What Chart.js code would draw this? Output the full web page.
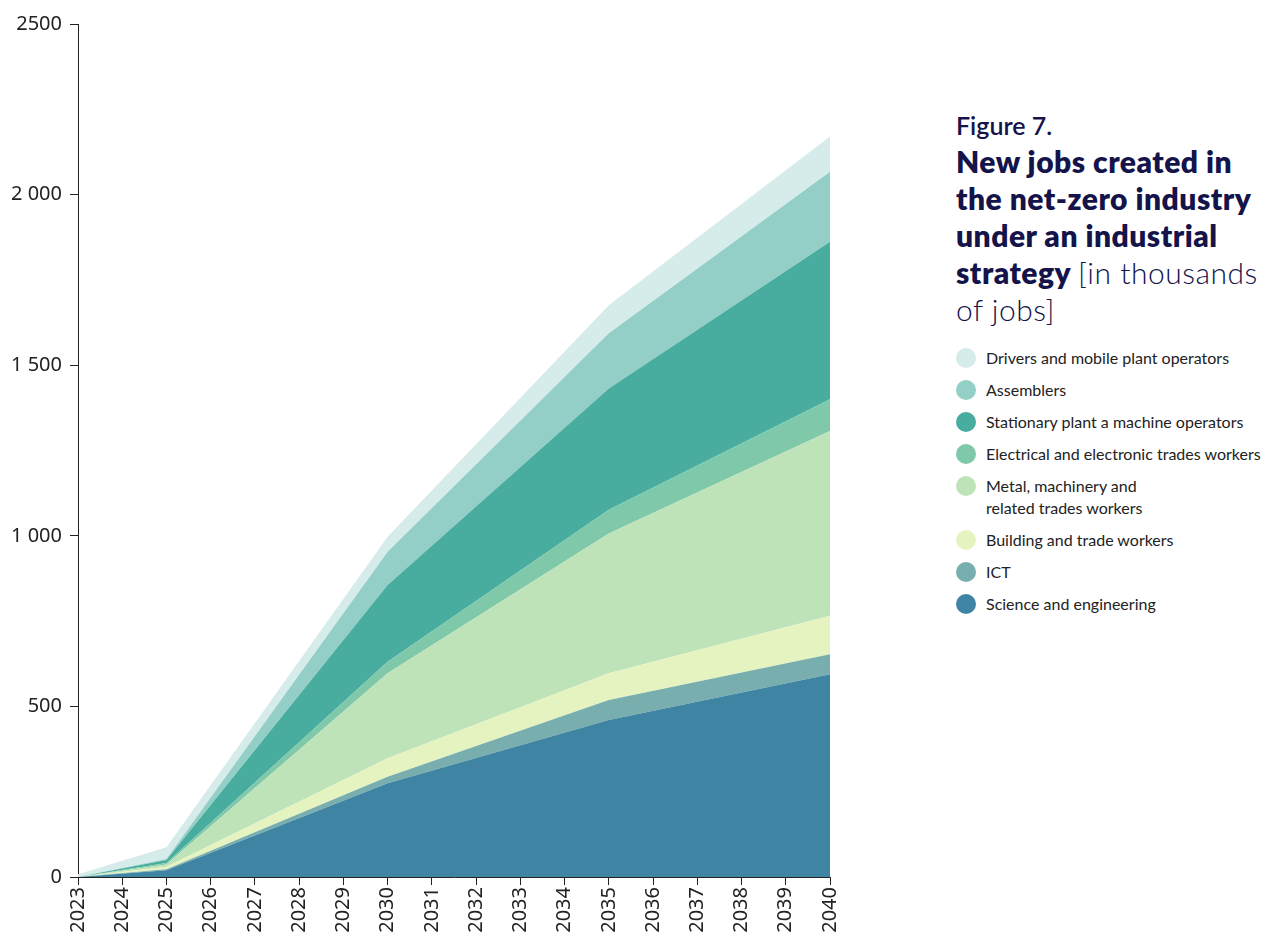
<!DOCTYPE html>
<html>
<head>
<meta charset="utf-8">
<script src="https://cdn.jsdelivr.net/npm/chart.js@4.4.1/dist/chart.umd.min.js"></script>
<style>
  html, body { margin: 0; padding: 0; background: #fff; }
  body { width: 1269px; height: 937px; position: relative; overflow: hidden; }
  #chartBox { position: absolute; left: 0; top: 0; width: 860px; height: 937px; }
  #side { position: absolute; left: 956px; top: 107px; width: 313px; color: #14134a; font-family: Lato, "Open Sans", sans-serif; }
  #side .fig { font-size: 25px; font-weight: 600; line-height: 36px; }
  #side .title { font-size: 30px; line-height: 37px; font-weight: 800; letter-spacing: 0.5px; }
  #side .title span { font-weight: 300; }
  #legend { position: absolute; left: 956px; top: 347px; font-family: Lato, "Open Sans", sans-serif; font-size: 16px; color: #222; }
  #legend .item { position: relative; padding-left: 30px; line-height: 22px; margin-bottom: 10px; }
  #legend .dot { position: absolute; left: 0; top: 1px; width: 20px; height: 20px; border-radius: 50%; }
</style>
</head>
<body>
<div id="chartBox"><canvas id="jobsChart"></canvas></div>
<div id="side">
  <div class="fig">Figure 7.</div>
  <div class="title">New jobs created in the net-zero industry under an industrial strategy <span>[in thousands of jobs]</span></div>
</div>
<div id="legend"></div>
<script>
// Years with data; the axis shows every year in between
const years = [2023, 2025, 2030, 2035, 2040];
const axisYears = [2023, 2024, 2025, 2026, 2027, 2028, 2029, 2030, 2031, 2032, 2033, 2034, 2035, 2036, 2037, 2038, 2039, 2040];
const yTickValues = [0, 500, 1000, 1500, 2000, 2500];
const yTickLabels = ['0', '500', '1 000', '1 500', '2 000', '2500'];

// New jobs per group, thousands (stacked from the bottom up)
const science = [0, 20, 275, 460, 594];
const ict = [0, 3, 19, 59, 59];
const building = [0, 7, 54, 78, 113];
const metal = [0, 7, 249, 410, 541];
const electrical = [0, 4, 34, 69, 93];
const stationary = [0, 9, 225, 356, 462];
const assemblers = [0, 3, 97, 162, 205];
const drivers = [8, 34, 44, 82, 103];

const series = [
    { label: 'Science and engineering', data: science, color: '#3f85a3' },
    { label: 'ICT', data: ict, color: '#78aeae' },
    { label: 'Building and trade workers', data: building, color: '#e4f3c0' },
    { label: 'Metal, machinery and\nrelated trades workers', data: metal, color: '#bfe3b8' },
    { label: 'Electrical and electronic trades workers', data: electrical, color: '#80c8aa' },
    { label: 'Stationary plant a machine operators', data: stationary, color: '#48ac9f' },
    { label: 'Assemblers', data: assemblers, color: '#93cfc6' },
    { label: 'Drivers and mobile plant operators', data: drivers, color: '#d6ecea' }
];

const datasets = series.map((s, i) => ({
    label: s.label,
    data: years.map((yr, j) => ({ x: yr, y: s.data[j] })),
    backgroundColor: s.color,
    borderWidth: 0,
    pointRadius: 0,
    fill: i === 0 ? 'origin' : '-1',
    tension: 0
}));

const tickFont = { family: '"Noto Sans", "Open Sans", sans-serif', size: 20 };

const ctx = document.getElementById('jobsChart').getContext('2d');
const jobsChart = new Chart(ctx, {
    type: 'line',
    data: { datasets: datasets },
    options: {
        responsive: true,
        maintainAspectRatio: false,
        animation: false,
        layout: { padding: { top: 24, right: 30, bottom: 0, left: 0 } },
        plugins: { legend: { display: false }, tooltip: { enabled: false } },
        scales: {
            x: {
                type: 'linear',
                min: 2023,
                max: 2040,
                afterBuildTicks: (scale) => { scale.ticks = axisYears.map(v => ({ value: v })); },
                afterFit: (scale) => { scale.height = 60; },
                ticks: {
                    minRotation: 90,
                    maxRotation: 90,
                    color: '#222',
                    font: tickFont,
                    padding: 2,
                    callback: (v) => String(v)
                },
                grid: { drawOnChartArea: false, drawTicks: true, tickLength: 8, color: '#222' },
                border: { display: true, color: '#222', width: 1 }
            },
            y: {
                stacked: true,
                min: 0,
                max: 2500,
                afterBuildTicks: (scale) => { scale.ticks = yTickValues.map(v => ({ value: v })); },
                afterFit: (scale) => { scale.width = 78; },
                ticks: {
                    color: '#222',
                    font: tickFont,
                    padding: 8,
                    callback: (v) => yTickLabels[yTickValues.indexOf(v)]
                },
                grid: { drawOnChartArea: false, drawTicks: true, tickLength: 8, color: '#222' },
                border: { display: true, color: '#222', width: 1 }
            }
        }
    }
});

// Legend, top series first
const legendBox = document.getElementById('legend');
series.slice().reverse().forEach(s => {
    const item = document.createElement('div');
    item.className = 'item';
    item.innerHTML = `<span class="dot" style="background:${s.color}"></span>${s.label.replace('\n', '<br>')}`;
    legendBox.appendChild(item);
});
</script>
</body>
</html>
